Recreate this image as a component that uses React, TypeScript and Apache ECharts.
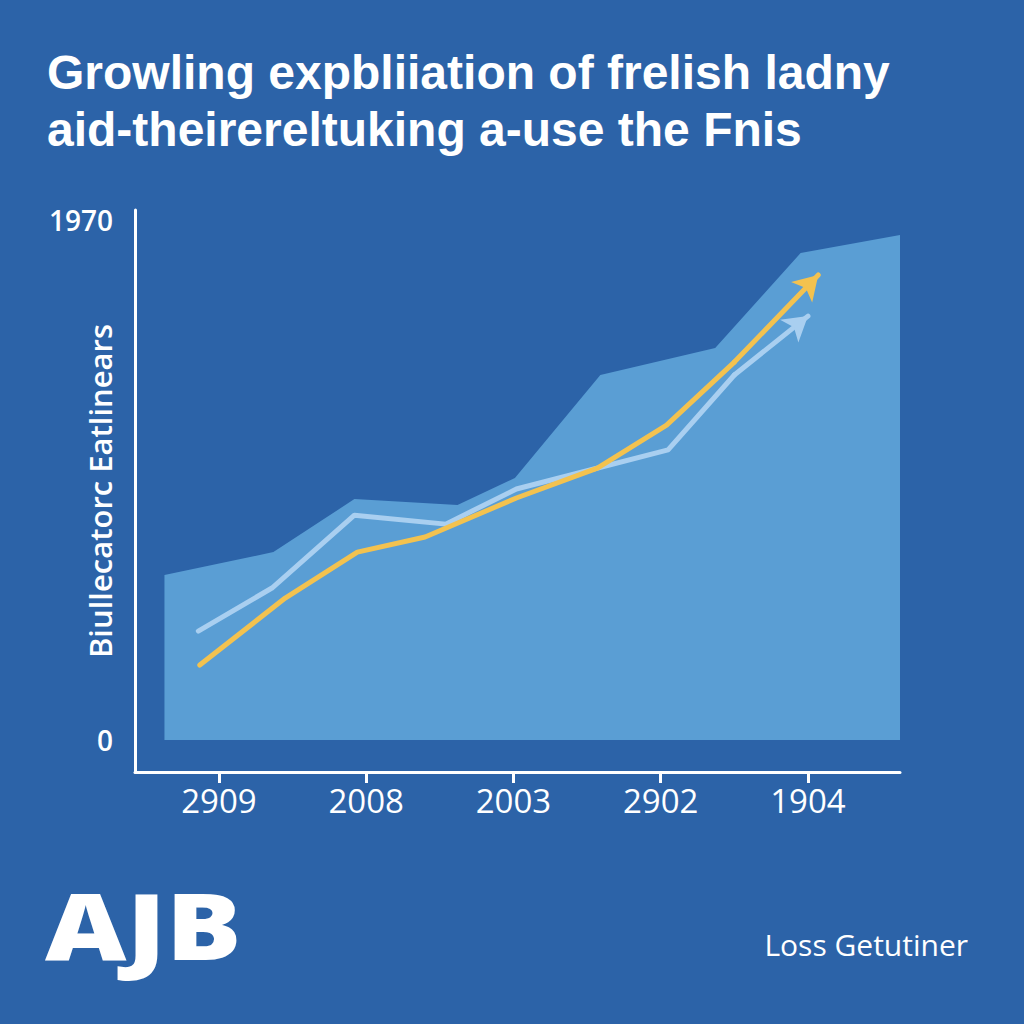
import React, { useEffect, useRef } from "react";
import * as echarts from "echarts";

const titleLines = [
  "Growling expbliiation of frelish ladny",
  "aid-theirereltuking a-use the Fnis",
];
const yAxisName = "Biullecatorc Eatlinears";
const xTickValues = [0, 1, 2, 3, 4];
const xTickLabels = ["2909", "2008", "2003", "2902", "1904"];
const yTickValues = [0, 1970];
const logoText = "AJB";
const footerText = "Loss Getutiner";

// area band: [x position (category units), value]
const areaData: number[][] = [
  [-0.37, 625],
  [0.37, 712],
  [0.92, 913],
  [1.62, 890],
  [2.01, 993],
  [2.59, 1383],
  [3.37, 1485],
  [3.95, 1845],
  [4.625, 1913],
];
const yellowData: number[][] = [
  [-0.13, 284],
  [0.45, 538],
  [0.94, 712],
  [1.4, 769],
  [2.02, 917],
  [2.57, 1030],
  [3.04, 1193],
  [3.5, 1432],
  [4.07, 1762],
];
const paleData: number[][] = [
  [-0.14, 413],
  [0.36, 576],
  [0.92, 852],
  [1.54, 818],
  [2.02, 951],
  [2.52, 1023],
  [3.05, 1099],
  [3.5, 1383],
  [4.0, 1606],
];

const BG = "#2C63A8";
const AREA = "#5A9ED4";
const YELLOW = "#F3C24F";
const PALE = "#A9CFF0";
const FONT = "'Open Sans', sans-serif";
const TITLE_FONT = "'Liberation Sans', Arial, sans-serif";

function arrowLine(name: string, data: number[][], color: string, z: number) {
  const n = data.length;
  return {
    name,
    type: "line",
    data: data.slice(0, n - 1),
    showSymbol: false,
    z,
    lineStyle: { color, width: 5, cap: "round", join: "round" },
    markLine: {
      silent: true,
      animation: false,
      symbol: ["none", "arrow"],
      symbolSize: [22, 24],
      label: { show: false },
      lineStyle: { color, width: 5, type: "solid", cap: "round" },
      data: [[{ coord: data[n - 2] }, { coord: data[n - 1] }]],
    },
  };
}

export default function App() {
  const ref = useRef<HTMLDivElement>(null);
  useEffect(() => {
    document.body.style.margin = "0";
    const chart = echarts.init(ref.current!, null, { renderer: "svg" });
    chart.setOption({
      animation: false,
      backgroundColor: BG,
      grid: { left: 135, right: 124, top: 210, bottom: 252, containLabel: false },
      xAxis: {
        type: "value",
        min: -0.57,
        max: 4.625,
        splitLine: { show: false },
        axisLine: { show: true, onZero: false, lineStyle: { color: "#FFFFFF", width: 3 } },
        axisTick: {
          show: true,
          customValues: xTickValues,
          length: 11,
          lineStyle: { color: "#FFFFFF", width: 3 },
        },
        axisLabel: {
          customValues: xTickValues,
          formatter: (v: number) => xTickLabels[Math.round(v)] ?? "",
          color: "#FFFFFF",
          fontSize: 33,
          fontWeight: 500,
          fontFamily: FONT,
          margin: 12,
        },
      },
      yAxis: {
        type: "value",
        min: -121,
        max: 2008,
        splitLine: { show: false },
        axisLine: { show: true, onZero: false, lineStyle: { color: "#FFFFFF", width: 3 } },
        axisTick: { show: false },
        axisLabel: {
          customValues: yTickValues,
          formatter: (v: number) => String(v),
          color: "#FFFFFF",
          fontSize: 28,
          fontWeight: 600,
          fontFamily: FONT,
          margin: 22,
        },
        name: yAxisName,
        nameLocation: "middle",
        nameGap: 20,
        nameMoveOverlap: false,
        nameTextStyle: {
          color: "#FFFFFF",
          fontSize: 31,
          fontWeight: 600,
          fontFamily: FONT,
        },
      },
      series: [
        {
          name: "band",
          type: "line",
          data: areaData,
          showSymbol: false,
          z: 1,
          lineStyle: { width: 0, color: AREA },
          areaStyle: { color: AREA, opacity: 1 },
        },
        arrowLine("pale", paleData, PALE, 3),
        arrowLine("yellow", yellowData, YELLOW, 4),
      ],
      graphic: [
        {
          type: "text",
          left: 47,
          top: 44,
          style: {
            text: titleLines.join("\n"),
            fill: "#FFFFFF",
            font: `700 48px ${TITLE_FONT}`,
            lineHeight: 57,
          },
        },
        {
          type: "text",
          x: 45,
          y: 878,
          scaleX: 1.22,
          style: {
            text: logoText,
            x: 0,
            y: 0,
            fill: "#FFFFFF",
            font: `800 92px ${FONT}`,
            align: "left",
            verticalAlign: "top",
          },
        },
        {
          type: "text",
          right: 56,
          top: 929,
          style: {
            text: footerText,
            fill: "#FFFFFF",
            font: `400 30px ${FONT}`,
          },
        },
      ],
    });
    return () => chart.dispose();
  }, []);
  return <div ref={ref} style={{ width: 1024, height: 1024 }} />;
}
